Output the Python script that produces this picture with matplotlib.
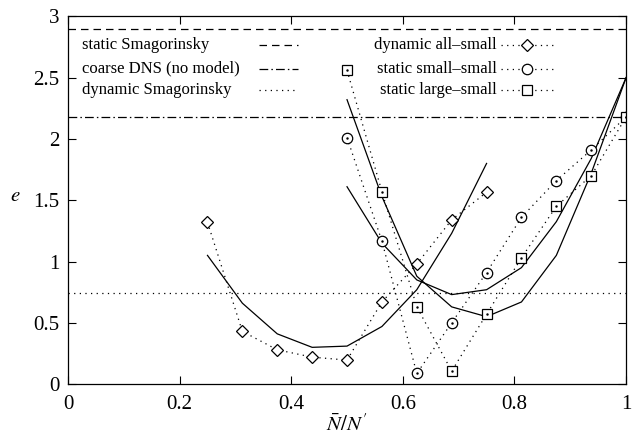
import matplotlib
matplotlib.use("Agg")
import matplotlib.pyplot as plt

plt.rcParams['font.family'] = ['Liberation Serif', 'DejaVu Serif']
plt.rcParams['mathtext.fontset'] = 'stix'

# reference levels
static_smag = 2.90
coarse_dns = 2.18
dynamic_smag = 0.74

# dynamic all-small
x_all = [0.25, 0.3125, 0.375, 0.4375, 0.5, 0.5625, 0.625, 0.6875, 0.75]
e_all = [1.32, 0.43, 0.28, 0.22, 0.196, 0.67, 0.98, 1.34, 1.565]
fit_all = [1.05, 0.66, 0.41, 0.30, 0.31, 0.47, 0.77, 1.23, 1.80]

# static small-small
x_ss = [0.5, 0.5625, 0.625, 0.6875, 0.75, 0.8125, 0.875, 0.9375, 1.0]
e_ss = [2.01, 1.167, 0.087, 0.50, 0.91, 1.36, 1.66, 1.91, 2.18]
fit_ss = [1.61, 1.15, 0.85, 0.73, 0.77, 0.95, 1.325, 1.84, 2.50]

# static large-small
x_ls = [0.5, 0.5625, 0.625, 0.6875, 0.75, 0.8125, 0.875, 0.9375, 1.0]
e_ls = [2.56, 1.57, 0.63, 0.106, 0.57, 1.03, 1.45, 1.70, 2.18]
fit_ls = [2.32, 1.53, 0.88, 0.63, 0.55, 0.67, 1.05, 1.72, 2.50]

xticks = [0, 0.2, 0.4, 0.6, 0.8, 1]
xtick_labels = ['0', '0.2', '0.4', '0.6', '0.8', '1']
yticks = [0, 0.5, 1, 1.5, 2, 2.5, 3]
ytick_labels = ['0', '0.5', '1', '1.5', '2', '2.5', '3']

fig = plt.figure(figsize=(6.35, 4.41), dpi=100)
ax = fig.add_axes([0.107, 0.129, 0.879, 0.834])

lw = 0.9
dot = (0, (1.0, 3.5))
mk = dict(markersize=7.5, markerfacecolor='white', markeredgecolor='black', markeredgewidth=0.9)

ax.axhline(static_smag, color='black', lw=lw, ls=(0, (6, 4)))
ax.axhline(coarse_dns, color='black', lw=lw, ls=(0, (7, 2.5, 1.2, 2.5)))
ax.axhline(dynamic_smag, color='black', lw=lw, ls=dot)

ax.plot(x_all, fit_all, color='black', lw=lw)
ax.plot(x_ss, fit_ss, color='black', lw=lw)
ax.plot(x_ls, fit_ls, color='black', lw=lw)

ax.plot(x_all, e_all, color='black', lw=lw, ls=dot, marker='D', **{**mk, 'markersize': 6.5})
ax.plot(x_ss, e_ss, color='black', lw=lw, ls=dot, marker='o', **mk)
ax.plot(x_ls, e_ls, color='black', lw=lw, ls=dot, marker='s', **mk)
# dot inside markers
for xs, es in [(x_ss, e_ss), (x_ls, e_ls)]:
    ax.plot(xs, es, ls='none', marker='.', markersize=1.5, color='black')

ax.set_xlim(0, 1)
ax.set_ylim(0, 3)
ax.set_xticks(xticks)
ax.set_xticklabels(xtick_labels)
ax.set_yticks(yticks)
ax.set_yticklabels(ytick_labels)
ax.tick_params(direction='in', length=6, width=0.8, top=True, right=True, labelsize=15, pad=6)
ax.tick_params(axis='x', pad=8)
for s in ax.spines.values():
    s.set_linewidth(0.9)

ax.set_xlabel(r'$\bar{N}/N^{\prime}$', fontsize=15, labelpad=0)
ax.set_ylabel(r'$e$', fontsize=15, rotation=0)
ax.yaxis.set_label_coords(-0.095, 0.485)

# manual legend
fs = 12
rows = [0.923, 0.858, 0.800]
left_labels = ['static Smagorinsky', 'coarse DNS (no model)', 'dynamic Smagorinsky']
left_styles = [(0, (6, 4)), (0, (7, 2.5, 1.2, 2.5)), dot]
for y, lab, st in zip(rows, left_labels, left_styles):
    ax.text(0.025, y, lab, transform=ax.transAxes, fontsize=fs, va='center', ha='left')
    ax.plot([0.342, 0.412], [y, y], transform=ax.transAxes, color='black', lw=lw, ls=st)

right_labels = ['dynamic all\u2013small', 'static small\u2013small', 'static large\u2013small']
right_markers = ['D', 'o', 's']
for y, lab, m in zip(rows, right_labels, right_markers):
    ax.text(0.768, y, lab, transform=ax.transAxes, fontsize=fs, va='center', ha='right')
    ax.plot([0.775, 0.872], [y, y], transform=ax.transAxes, color='black', lw=lw, ls=dot)
    ax.plot([0.823], [y], transform=ax.transAxes, ls='none', marker=m,
            **{**mk, 'markersize': 6.5 if m == 'D' else 7.5})

fig.savefig('out.png', dpi=100)
